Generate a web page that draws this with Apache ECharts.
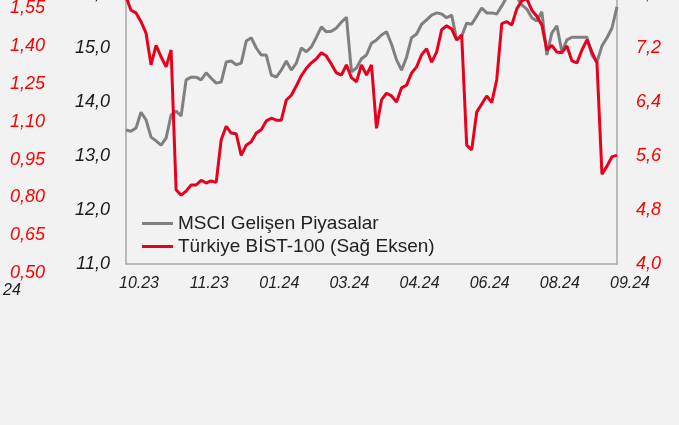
<!DOCTYPE html>
<html>
<head>
<meta charset="utf-8">
<script src="https://cdn.jsdelivr.net/npm/echarts@6/dist/echarts.min.js"></script>
<style>
html,body{margin:0;padding:0;background:#f2f2f2;overflow:hidden;}
#c{width:679px;height:425px;}
</style>
</head>
<body>
<div id="c"></div>
<script>
// X-axis tick labels (shown every 14th point)
const tickLabels = ['10.23','11.23','01.24','03.24','04.24','06.24','08.24','09.24'];
const tickStep = 14;

// MSCI Gelişen Piyasalar (left axis)
const msci = [
13.48,13.46,13.52,13.81,13.67,13.35,13.28,13.20,13.33,13.76,
13.83,13.74,14.41,14.46,14.46,14.41,14.54,14.44,14.35,14.37,
14.74,14.76,14.69,14.72,15.13,15.19,15.00,14.87,14.87,14.50,
14.46,14.59,14.76,14.59,14.72,15.00,14.93,15.02,15.20,15.39,
15.30,15.31,15.37,15.48,15.57,14.56,14.63,14.80,14.87,15.09,
15.15,15.24,15.30,15.07,14.78,14.59,14.83,15.19,15.26,15.44,
15.52,15.61,15.65,15.63,15.56,15.61,15.15,15.22,15.46,15.44,
15.59,15.74,15.65,15.65,15.63,15.78,15.94,15.96,15.94,15.80,
15.72,15.56,15.50,15.67,14.87,15.28,15.41,14.93,15.15,15.20,
15.20,15.20,15.20,14.87,14.74,15.04,15.19,15.37,15.76
];

// Türkiye BİST-100 (right axis)
const bist = [
7.96,7.76,7.72,7.59,7.42,6.95,7.24,7.07,6.92,7.17,
5.10,5.02,5.08,5.17,5.17,5.24,5.20,5.23,5.21,5.84,
6.04,5.94,5.93,5.61,5.76,5.81,5.94,5.99,6.12,6.16,
6.13,6.13,6.43,6.50,6.64,6.79,6.90,6.98,7.04,7.13,
7.08,6.96,6.83,6.80,6.95,6.76,6.70,6.95,6.80,6.95,
6.01,6.43,6.53,6.49,6.40,6.61,6.65,6.83,6.92,7.10,
7.19,6.99,7.14,7.47,7.53,7.48,7.32,7.39,5.76,5.69,
6.25,6.37,6.49,6.39,6.73,7.56,7.59,7.54,7.78,7.90,
7.93,7.76,7.67,7.54,7.17,7.24,7.14,7.13,7.23,7.01,
6.98,7.17,7.32,7.14,6.98,5.33,5.45,5.59,5.61
];

// Neighbouring chart's axis labels visible at the far left
const sideAxisTicks = [0.50,0.65,0.80,0.95,1.10,1.25,1.40,1.55];
const sideAxisCut = '24';

const seriesNames = ['MSCI Gelişen Piyasalar','Türkiye BİST-100 (Sağ Eksen)'];

const categories = msci.map((v,i) => (i % tickStep === 0) ? tickLabels[i / tickStep] : '');

const FONT = 'Liberation Sans, Arial, sans-serif';
const comma = (d) => (v) => v.toFixed(d).replace('.', ',');

const chart = echarts.init(document.getElementById('c'), null, {renderer:'canvas'});
chart.setOption({
  backgroundColor: '#f2f2f2',
  animation: false,
  textStyle: {fontFamily: FONT},
  grid: [
    {left: 126, right: 62, top: -6, bottom: 161, outerBoundsMode: 'none', containLabel: false},
    {left: 53, width: 20, top: 8.3, bottom: 152, outerBoundsMode: 'none', containLabel: false}
  ],
  legend: {
    orient: 'vertical',
    left: 137, top: 209,
    itemGap: 4,
    itemWidth: 31, itemHeight: 3,
    icon: 'rect',
    textStyle: {fontSize: 19, color: '#222', fontFamily: FONT},
    data: seriesNames
  },
  xAxis: [
    {
      type: 'category', gridIndex: 0, data: categories, boundaryGap: false,
      axisLine: {show: true, lineStyle: {color: '#a6a6a6', width: 1.5}},
      axisTick: {show: false},
      axisLabel: {
        interval: (i) => i % tickStep === 0,
        showMinLabel: true, showMaxLabel: true,
        margin: 12, padding: [0,0,0,26],
        fontSize: 16, fontStyle: 'italic', color: '#222', fontFamily: FONT
      },
      splitLine: {show: false}
    },
    {type: 'category', gridIndex: 1, data: [''], show: false}
  ],
  yAxis: [
    {
      type: 'value', gridIndex: 0, position: 'left', min: 11, max: 16, interval: 1,
      axisLine: {show: true, lineStyle: {color: '#a6a6a6', width: 1.5}},
      axisTick: {show: false}, splitLine: {show: false},
      axisLabel: {formatter: comma(1), margin: 16, fontSize: 18, fontStyle: 'italic', color: '#1a1a1a', fontFamily: FONT}
    },
    {
      type: 'value', gridIndex: 0, position: 'right', min: 4, max: 8, interval: 0.8,
      axisLine: {show: true, lineStyle: {color: '#a6a6a6', width: 1.5}},
      axisTick: {show: false}, splitLine: {show: false},
      axisLabel: {formatter: comma(1), margin: 19, fontSize: 18, fontStyle: 'italic', color: '#ff0000', fontFamily: FONT}
    },
    {
      type: 'value', gridIndex: 1, position: 'left',
      min: sideAxisTicks[0], max: sideAxisTicks[sideAxisTicks.length-1], interval: 0.15,
      axisLine: {show: false}, axisTick: {show: false}, splitLine: {show: false},
      axisLabel: {formatter: comma(2), margin: 8, fontSize: 18, fontStyle: 'italic', color: '#ff0000', fontFamily: FONT,
                  showMinLabel: true, showMaxLabel: true}
    }
  ],
  graphic: [
    {type: 'text', left: 3, top: 283, style: {text: sideAxisCut, font: 'italic 16px ' + FONT, fill: '#222'}}
  ],
  series: [
    {
      name: seriesNames[0], type: 'line', xAxisIndex: 0, yAxisIndex: 0, data: msci,
      showSymbol: false, symbol: 'none', lineStyle: {color: '#808080', width: 3}, itemStyle: {color: '#808080'}
    },
    {
      name: seriesNames[1], type: 'line', xAxisIndex: 0, yAxisIndex: 1, data: bist,
      showSymbol: false, symbol: 'none', lineStyle: {color: '#e8001c', width: 3}, itemStyle: {color: '#e8001c'}
    }
  ]
});
</script>
</body>
</html>
